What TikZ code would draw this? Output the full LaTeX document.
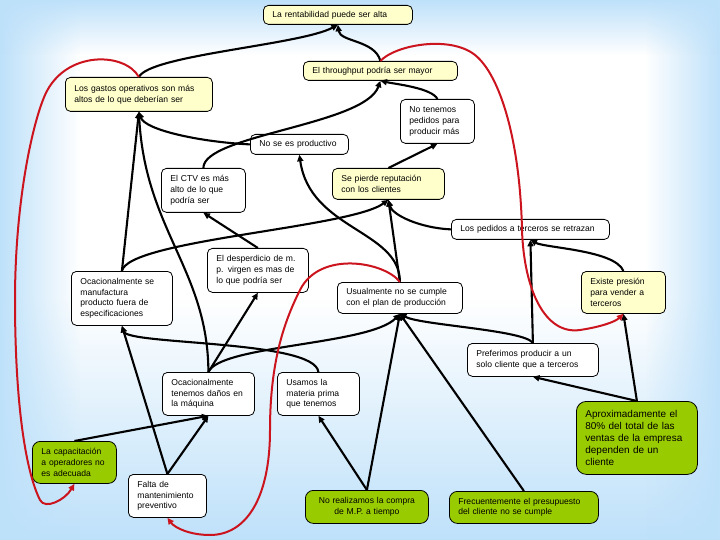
\documentclass[tikz,border=0pt]{standalone}
\usepackage{fontspec}
\setmainfont{Liberation Sans}
\usetikzlibrary{arrows.meta,fadings}
\definecolor{bgblue}{RGB}{190,225,250}
\definecolor{yelc}{RGB}{255,255,204}
\definecolor{grnc}{RGB}{153,204,0}
\definecolor{redc}{RGB}{204,20,30}
\tikzset{
  base/.style={draw=black, line width=0.8bp, rounded corners=5bp, anchor=north west,
    inner xsep=9bp, inner ysep=0bp, align=left, text=black,
    font=\fontsize{8.6}{10.8}\selectfont},
  wbox/.style={base, fill=white},
  ybox/.style={base, fill=yelc},
  gbox/.style={base, fill=grnc, rounded corners=8bp},
  edge/.style={draw=black, line width=2.1bp, -{Triangle[length=6.5bp,width=6bp]}},
  fb/.style={draw=redc, line width=2bp, -{Triangle[length=6.5bp,width=6bp]}},
}
\begin{document}
\begin{tikzpicture}[x=1bp,y=-1bp]
\useasboundingbox (0,0) rectangle (720,540);
\fill[white] (0,0) rectangle (720,540);
\fill[bgblue, path fading=north] (0,300) rectangle (720,540);
\fill[bgblue, path fading=east] (0,0) rectangle (80,540);
\fill[bgblue, path fading=west] (645,0) rectangle (720,540);
\fill[bgblue, path fading=south] (0,0) rectangle (720,55);

% nodes
\node[ybox, text width=131bp, minimum height=19bp] (n1) at (263,5) {La rentabilidad puede ser alta};
\node[ybox, text width=136bp, minimum height=19bp] (n2) at (303,61) {El throughput podría ser mayor};
\node[ybox, text width=129bp, minimum height=34bp] (n3) at (65,77) {Los gastos operativos son más\\altos de lo que deberían ser};
\node[wbox, text width=56bp, minimum height=44bp] (n4) at (400,99) {No tenemos\\pedidos para\\producir más};
\node[wbox, text width=80bp, minimum height=20bp] (n5) at (250,134) {No se es productivo};
\node[wbox, text width=66bp, minimum height=44bp] (n6) at (161,168) {El CTV es más\\alto de lo que\\podría ser};
\node[ybox, text width=94bp, minimum height=31bp] (n7) at (332,168) {Se pierde reputación\\con los clientes};
\node[wbox, text width=140bp, minimum height=20bp] (n8) at (451,219) {Los pedidos a terceros se retrazan};
\node[wbox, text width=83bp, minimum height=54bp] (n9) at (71,271) {Ocacionalmente se\\manufactura\\producto fuera de\\especificaciones};
\node[wbox, text width=83bp, minimum height=44bp] (n10) at (207,248) {El desperdicio de m.\\p. virgen es mas de\\lo que podría ser};
\node[wbox, text width=107bp, minimum height=31bp] (n11) at (337,282) {Usualmente no se cumple\\con el plan de producción};
\node[ybox, text width=66bp, minimum height=42bp] (n12) at (581,271) {Existe presión\\para vender a\\terceros};
\node[wbox, text width=113bp, minimum height=33bp] (n13) at (467,343) {Preferimos producir a un\\solo cliente que a terceros};
\node[wbox, text width=74bp, minimum height=43bp] (n14) at (162,372) {Ocacionalmente\\tenemos daños en\\la máquina};
\node[wbox, text width=64bp, minimum height=43bp] (n15) at (277,372) {Usamos la\\materia prima\\que tenemos};
\node[gbox, rounded corners=10bp, text width=103bp, minimum height=73bp,
      font=\fontsize{10}{12.2}\selectfont] (n16) at (576,401) {Aproximadamente el\\80\% del total de las\\ventas de la empresa\\dependen de un\\cliente};
\node[gbox, text width=66bp, minimum height=42bp] (n17) at (32,441) {La capacitación\\a operadores no\\es adecuada};
\node[wbox, text width=60bp, minimum height=43bp] (n18) at (128,474) {Falta de\\mantenimiento\\preventivo};
\node[gbox, text width=105bp, minimum height=33bp, align=center] (n19) at (305,490) {No realizamos la compra\\de M.P. a tiempo};
\node[gbox, text width=131bp, minimum height=32bp] (n20) at (449,491) {Frecuentemente el presupuesto\\del cliente no se cumple};

% black connectors
\draw[edge] (n3.north) .. controls (150,55) and (300,45) .. (n1.south);
\draw[edge] (n2.north) .. controls (375,40) and (340,42) .. (n1.south);
\draw[edge] (n6.north) .. controls (203,135) and (365,125) .. (n2.south);
\draw[edge] (n4.north) .. controls (432,88) and (395,84) .. (n2.south);
\draw[edge] (n5.west) .. controls (200,142) and (145,130) .. (n3.south);
\draw[edge] (n9.north) -- (n3.south);
\draw[edge] (n14.north) .. controls (208,270) and (145,230) .. (n3.south);
\draw[edge] (n7.north) -- (n4.south);
\draw[edge] (n11.north) .. controls (400,230) and (310,230) .. (n5.south);
\draw[edge] (n9.north) .. controls (128,240) and (350,228) .. (n7.south);
\draw[edge] (n11.north) -- (n7.south);
\draw[edge] (n8.west) .. controls (420,228) and (392,215) .. (n7.south);
\draw[edge] (n10.north) -- (n6.south);
\draw[edge] (n14.north) -- (n10.south);
\draw[edge] (n14.north) .. controls (220,345) and (370,345) .. (n11.south);
\draw[edge] (n15.north) .. controls (315,340) and (128,345) .. (n9.south);
\draw[edge] (n18.north) -- (n9.south);
\draw[edge] (n18.north) -- (n14.south);
\draw[edge] (n17.north) -- (n14.south);
\draw[edge] (n13.north) .. controls (525,330) and (420,325) .. (n11.south);
\draw[edge] (n13.north) -- (n8.south);
\draw[edge] (n12.north) .. controls (615,250) and (545,248) .. (n8.south);
\draw[edge] (n19.north) -- (n11.south);
\draw[edge] (n20.north) -- (n11.south);
\draw[edge] (n19.north) -- (n15.south);
\draw[edge] (n16.north) -- (n13.south);
\draw[edge] (n16.north) -- (n12.south);

% red feedback connectors
\draw[fb] (n3.north) .. controls (125,52) and (65,50) .. (45,95)
  .. controls (33,122) and (15,200) .. (15,300)
  .. controls (15,400) and (25,470) .. (40,500)
  .. controls (45,510) and (65,500) .. (n17.south);
\draw[fb] (n2.north) .. controls (395,45) and (450,35) .. (475,55)
  .. controls (500,75) and (520,140) .. (522,230)
  .. controls (524,290) and (545,335) .. (580,330)
  .. controls (600,327) and (615,322) .. (n12.south);
\draw[fb] (n11.north) .. controls (385,262) and (320,250) .. (300,290)
  .. controls (285,320) and (270,360) .. (270,430)
  .. controls (270,500) and (245,535) .. (210,535)
  .. controls (190,535) and (175,528) .. (n18.south);
\end{tikzpicture}
\end{document}
